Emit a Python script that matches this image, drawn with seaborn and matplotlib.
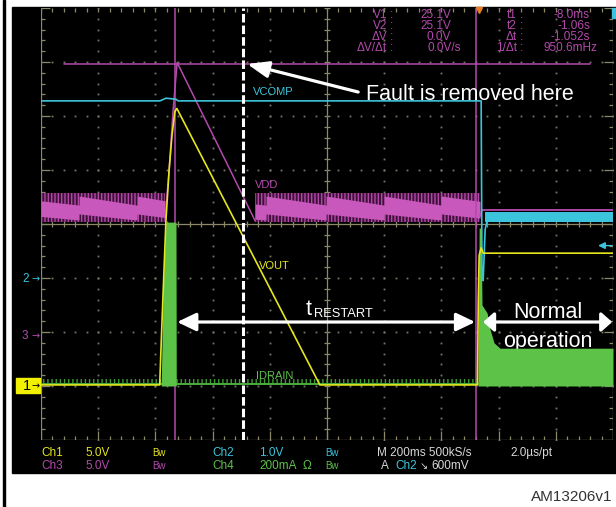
import numpy as np
import matplotlib.pyplot as plt
import seaborn as sns
from matplotlib.patches import Rectangle
from matplotlib.collections import LineCollection

W, H = 616, 507

# scope settings: 200 ms/div, trigger (t = 0) sits 7.65 div from the left edge
t_div = 0.2
t_left = -1.53
ndiv_x, ndiv_y = 10, 8

# channel setup: (units per div, ground position in div from the centre line)
ch1 = (5.0, -3.0)      # VOUT   [V]
ch2 = (1.0, -1.0)      # VCOMP  [V]
ch3 = (5.0, -2.05)     # VDD    [V]
ch4 = (200.0, -3.0)    # IDRAIN [mA]

# ---------------- traces ----------------
# VOUT (ch1)
vout_t = [-1.53, -1.115, -1.108, -1.100, -1.093, -1.082, -1.072, -1.062, -1.055,
          -0.555, -0.004, -0.001, 0.002, 0.009, 0.016, 0.47]
vout_v = [0.1, 0.1, 5.2, 10.7, 15.4, 20.0, 23.2, 25.4, 25.7,
          0.1, 0.1, 8.0, 12.1, 12.8, 12.3, 12.3]

# VCOMP (ch2)
vcomp_t = [-1.53, -1.114, -1.093, -1.058, -1.051, 0.009, 0.012, 0.016, 0.023, 0.033, 0.47]
vcomp_v = [3.28, 3.28, 3.33, 3.31, 3.28, 3.28, 0.0, -0.05, 0.9, 1.13, 1.13]
vcomp_noise_t = [0.023, 0.47]
vcomp_noise = (1.04, 1.22)

# VDD (ch3): restart ramp and the level after the fault is gone
vdd_t = [-1.096, -1.082, -1.068, -1.054, -0.781]
vdd_v = [10.8, 15.25, 20.8, 25.2, 10.53]
vdd_on_t = [0.005, 0.012, 0.47]
vdd_on_v = [11.0, 11.55, 11.55]
# VDD sawtooth while the controller is in hiccup (upper / lower edge of dense part)
saw_a_t = [-1.530, -1.397, -1.397, -1.194, -1.194, -1.096]
saw_a_hi = [12.40, 12.00, 12.84, 12.00, 12.84, 12.40]
saw_a_lo = [10.95, 10.62, 11.18, 10.62, 11.18, 10.85]
saw_b_t = [-0.781, -0.743, -0.743, -0.533, -0.533, -0.330, -0.330, -0.131, -0.131, 0.005]
saw_b_hi = [12.10, 12.00, 12.84, 12.00, 12.84, 12.00, 12.84, 12.00, 12.84, 12.35]
saw_b_lo = [10.70, 10.62, 11.18, 10.62, 11.18, 10.62, 11.18, 10.62, 11.18, 10.80]
vdd_ripple = (10.45, 13.1)

# IDRAIN (ch4), mA
idrain_base_t = [-1.53, -0.002]
idrain_base = 8
burst_t = [-1.110, -1.107, -1.103, -1.096, -1.093, -1.058, -1.057]
burst_i = [0, 152, 356, 541, 607, 607, 0]
run_t = [-0.002, 0.002, 0.009, 0.012, 0.030, 0.040, 0.054, 0.075, 0.47]
run_i = [0, 585, 585, 300, 270, 210, 160, 140, 140]

# cursors
cur_v = 25.1
cur_t1, cur_t2 = -0.008, -1.06
cur_span = (-1.45, 0.39)
t_fault = -0.823
trig_level = 0.6   # V on ch2

c_yel = '#e6e61e'
c_cyan = '#3cc4dc'
c_mag = '#b44aac'
c_mag2 = '#c858bc'
c_grn = '#5cc248'
c_grat = '#8c886a'
c_txt = '#d8d8d8'


def div(vals, ch):
    scale, pos = ch
    return np.asarray(vals, dtype=float) / scale + pos


sns.set_theme(style='white')
plt.rcParams['font.family'] = ['Liberation Sans', 'DejaVu Sans']
plt.rcParams['hatch.linewidth'] = 1.0

fig = plt.figure(figsize=(W / 100, H / 100), dpi=100)
fig.patch.set_facecolor('white')

# screen and left frame line
fig.add_artist(Rectangle((12 / W, 1 - 473 / H), 604 / W, 466 / H, transform=fig.transFigure,
                         color='black', zorder=-1))
fig.add_artist(Rectangle((3 / W, 0), 2 / W, 1, transform=fig.transFigure, color='black', zorder=-1))

ax = fig.add_axes([41 / W, 67 / H, 572 / W, 432 / H])
ax.set_xlim(t_left, t_left + ndiv_x * t_div)
ax.set_ylim(-ndiv_y / 2, ndiv_y / 2)
ax.axis('off')

# ---------------- graticule ----------------
dx, dy = 1 / 572, 1 / 432
segs = [[(0, 0), (0, 1)], [(1, 0), (1, 1)], [(0, 0), (1, 0)],
        [(0.5, 0), (0.5, 1)], [(0, 0.5), (1, 0.5)]]
for i in range(ndiv_x * 5 + 1):
    x = i / (ndiv_x * 5)
    L = 9 if i % 5 == 0 else 4
    segs += [[(x, 0), (x, L * dy)], [(x, 1), (x, 1 - 4 * dy)],
             [(x, 0.5 - 3 * dy), (x, 0.5 + 3 * dy)]]
for j in range(ndiv_y * 5 + 1):
    y = j / (ndiv_y * 5)
    L = 9 if j % 5 == 0 else 4
    segs += [[(0, y), (L * dx, y)], [(1, y), (1 - L * dx, y)],
             [(0.5 - 3 * dx, y), (0.5 + 3 * dx, y)]]
ax.add_collection(LineCollection(segs, colors=c_grat, lw=0.9, transform=ax.transAxes, zorder=1))

gx, gy = [], []
for i in range(1, ndiv_x):
    if i != ndiv_x // 2:
        for j in range(ndiv_y * 5 + 1):
            gx.append(i / ndiv_x)
            gy.append(j / (ndiv_y * 5))
for j in range(1, ndiv_y):
    if j != ndiv_y // 2:
        for i in range(ndiv_x * 5 + 1):
            gx.append(i / (ndiv_x * 5))
            gy.append(j / ndiv_y)
ax.plot(gx, gy, ls='none', marker='s', ms=1.3, mew=0, color='#77776a',
        transform=ax.transAxes, zorder=1)

# ---------------- VDD ----------------
for tt in (saw_a_t, saw_b_t):
    ax.fill_between([tt[0], tt[-1]], div([vdd_ripple[0]] * 2, ch3), div([vdd_ripple[1]] * 2, ch3),
                    facecolor='#3c1238', edgecolor='#b446a8', hatch='|||||', lw=0, zorder=2)
ax.fill_between(saw_a_t, div(saw_a_lo, ch3), div(saw_a_hi, ch3), color=c_mag2, lw=0, zorder=2.1)
ax.fill_between(saw_b_t, div(saw_b_lo, ch3), div(saw_b_hi, ch3), color=c_mag2, lw=0, zorder=2.1)
sns.lineplot(x=vdd_t, y=div(vdd_v, ch3), ax=ax, color=c_mag, lw=1.1, sort=False,
             estimator=None, zorder=2.2)
sns.lineplot(x=vdd_on_t, y=div(vdd_on_v, ch3), ax=ax, color=c_mag, lw=1.3, sort=False,
             estimator=None, zorder=2.2)

# cursors
cy = div([cur_v], ch3)[0]
ax.plot(cur_span, [cy, cy], color=c_mag, lw=1.1, zorder=2.5)
for tc in (cur_t1, cur_t2):
    ax.axvline(tc, color=c_mag, lw=1.1, zorder=2.5)

# ---------------- VCOMP ----------------
ax.fill_between(vcomp_noise_t, div([vcomp_noise[0]] * 2, ch2), div([vcomp_noise[1]] * 2, ch2),
                color=c_cyan, lw=0, zorder=3)
sns.lineplot(x=vcomp_t, y=div(vcomp_v, ch2), ax=ax, color=c_cyan, lw=1.2, sort=False,
             estimator=None, zorder=3)

# ---------------- IDRAIN ----------------
ax.fill_between(idrain_base_t, div([4, 4], ch4), div([26, 26], ch4), facecolor='none',
                edgecolor='#3e9a32', hatch='||||', lw=0, zorder=3.8)
sns.lineplot(x=idrain_base_t, y=div([idrain_base] * 2, ch4), ax=ax, color='#4aae3c', lw=1.4,
             estimator=None, zorder=3.9)
ax.fill_between(burst_t, div([0] * len(burst_t), ch4), div(burst_i, ch4), color=c_grn, lw=0, zorder=4)
ax.fill_between(run_t, div([0] * len(run_t), ch4), div(run_i, ch4), color=c_grn, lw=0, zorder=4)

# ---------------- VOUT ----------------
sns.lineplot(x=vout_t, y=div(vout_v, ch1), ax=ax, color=c_yel, lw=1.2, sort=False,
             estimator=None, zorder=5)

# fault removal marker
ax.axvline(t_fault, color='white', lw=2.2, dashes=(2.8, 1.0), zorder=6)

# trigger marks
ax.plot([0], [ndiv_y / 2 - 0.04], marker='v', ms=5, color='#e8801e', clip_on=False, zorder=6)
ax.annotate('', xy=(0.418, div([trig_level], ch2)[0]), xytext=(0.467, div([trig_level], ch2)[0]),
            arrowprops=dict(arrowstyle='-|>,head_length=0.5,head_width=0.25', mutation_scale=8,
                            color=c_cyan, lw=1, shrinkA=0, shrinkB=0), zorder=6)
fig.add_artist(Rectangle((612 / W, 1 - 18 / H), 4 / W, 10 / H, transform=fig.transFigure,
                         color=c_cyan, zorder=2))

# trace labels
lab_kw = dict(fontsize=8, va='baseline', ha='left', zorder=6)
ax.text(-0.789, 2.389, 'VCOMP', color=c_cyan, **lab_kw)
ax.text(-0.781, 0.667, 'VDD', color=c_mag, **lab_kw)
ax.text(-0.768, -0.833, 'VOUT', color=c_yel, **lab_kw)
ax.text(-0.778, -2.870, 'IDRAIN', color=c_grn, **lab_kw)

# ---------------- annotations ----------------
ax.annotate('', xy=(-0.809, 2.963), xytext=(-0.421, 2.444),
            arrowprops=dict(arrowstyle='-|>,head_length=1.3,head_width=0.5', mutation_scale=10,
                            color='white', lw=2.3, shrinkA=0, shrinkB=0), zorder=7)
ax.text(-0.393, 2.296, 'Fault is removed here', color='white', fontsize=15.5,
        va='baseline', ha='left', zorder=7)

ax.annotate('', xy=(-1.054, -1.815), xytext=(-0.012, -1.815),
            arrowprops=dict(arrowstyle='<|-|>,head_length=1.15,head_width=0.55', mutation_scale=10,
                            color='white', lw=2.3, shrinkA=0, shrinkB=0), zorder=7)
ax.text(-0.606, -1.685, 't', color='white', fontsize=15.5, va='baseline', ha='left', zorder=7)
ax.text(-0.575, -1.722, 'RESTART', color='white', fontsize=9.3, va='baseline', ha='left', zorder=7)

ax.annotate('', xy=(0.016, -1.815), xytext=(0.467, -1.815),
            arrowprops=dict(arrowstyle='<|-|>,head_length=0.65,head_width=0.58', mutation_scale=10,
                            color='white', lw=2.3, shrinkA=0, shrinkB=0), zorder=7)
ax.text(0.243, -1.741, 'Normal', color='white', fontsize=15.5, va='baseline', ha='center', zorder=7)
ax.text(0.243, -2.27, 'operation', color='white', fontsize=15.5, va='baseline', ha='center', zorder=3.5)


# ---------------- text outside the graticule ----------------
def ftext(x, y, s, **kw):
    fig.text(x / W, 1 - y / H, s, **kw)


# channel ground markers
fig.add_artist(Rectangle((16 / W, 1 - 393 / H), 24 / W, 15 / H, transform=fig.transFigure,
                         color='#f0f000', zorder=2))
ftext(23, 386, '1', color='black', fontsize=10.5, va='center', ha='left')
ftext(32, 386, '\u2192', color='black', fontsize=7, va='center', ha='left', family=['DejaVu Sans'])
ftext(22, 279, '2', color=c_cyan, fontsize=8.5, va='center', ha='left')
ftext(31, 279, '\u2192', color=c_cyan, fontsize=7, va='center', ha='left', family=['DejaVu Sans'])
ftext(22, 336, '3', color=c_mag, fontsize=8.5, va='center', ha='left')
ftext(31, 336, '\u2192', color=c_mag, fontsize=7, va='center', ha='left', family=['DejaVu Sans'])

# cursor readout
ro_kw = dict(color=c_mag, fontsize=8.5, va='center')
rows = [15, 26, 37, 48]
dt = cur_t2 - cur_t1
left_lab = ['V1', 'V2', '\u0394V', '\u0394V/\u0394t']
left_val = [f'{cur_v:.1f}V', f'{cur_v:.1f}V', '0.0V', '0.0V/s']
right_lab = ['t1', 't2', '\u0394t', '1/\u0394t']
right_val = [f'{cur_t1 * 1000:.1f}ms', f'{cur_t2:.2f}s', f'{dt:.3f}s', f'{1000 / abs(dt):.1f}mHz']
for k, y in enumerate(rows):
    ftext(387, y, left_lab[k], ha='right', **ro_kw)
    ftext(390, y, ':', ha='left', **ro_kw)
    ftext(461 if k == 3 else 451, y, left_val[k], ha='right', **ro_kw)
    ftext(517, y, right_lab[k], ha='right', **ro_kw)
    ftext(520, y, ':', ha='left', **ro_kw)
    ftext(597 if k == 3 else 590, y, right_val[k], ha='right', **ro_kw)

# channel / timebase info
bot_kw = dict(fontsize=8.5, va='center', ha='left')
ftext(41, 453, 'Ch1', color=c_yel, **bot_kw)
ftext(85, 453, '5.0V', color=c_yel, **bot_kw)
ftext(152, 453, 'Bw', color=c_yel, fontsize=7, va='center', ha='left')
ftext(212, 453, 'Ch2', color=c_cyan, **bot_kw)
ftext(259, 453, '1.0V', color=c_cyan, **bot_kw)
ftext(325, 453, 'Bw', color=c_cyan, fontsize=7, va='center', ha='left')
ftext(377, 453, 'M 200ms 500kS/s', color=c_txt, **bot_kw)
ftext(510, 453, '2.0\u00b5s/pt', color=c_txt, **bot_kw)
ftext(41, 466, 'Ch3', color=c_mag, **bot_kw)
ftext(85, 466, '5.0V', color=c_mag, **bot_kw)
ftext(152, 466, 'Bw', color=c_mag, fontsize=7, va='center', ha='left')
ftext(212, 466, 'Ch4', color=c_grn, **bot_kw)
ftext(259, 466, '200mA', color=c_grn, **bot_kw)
ftext(303, 466, '\u03a9', color=c_grn, **bot_kw)
ftext(325, 466, 'Bw', color=c_grn, fontsize=7, va='center', ha='left')
ftext(381, 466, 'A', color=c_txt, **bot_kw)
ftext(395, 466, 'Ch2', color=c_cyan, **bot_kw)
ftext(420, 466, '\u2198', color=c_txt, fontsize=7, va='center', ha='left', family=['DejaVu Sans'])
ftext(431, 466, f'{trig_level * 1000:.0f}mV', color=c_txt, **bot_kw)

ftext(612, 497, 'AM13206v1', color='#333333', fontsize=11, va='center', ha='right')

fig.savefig('out.png', dpi=100)
